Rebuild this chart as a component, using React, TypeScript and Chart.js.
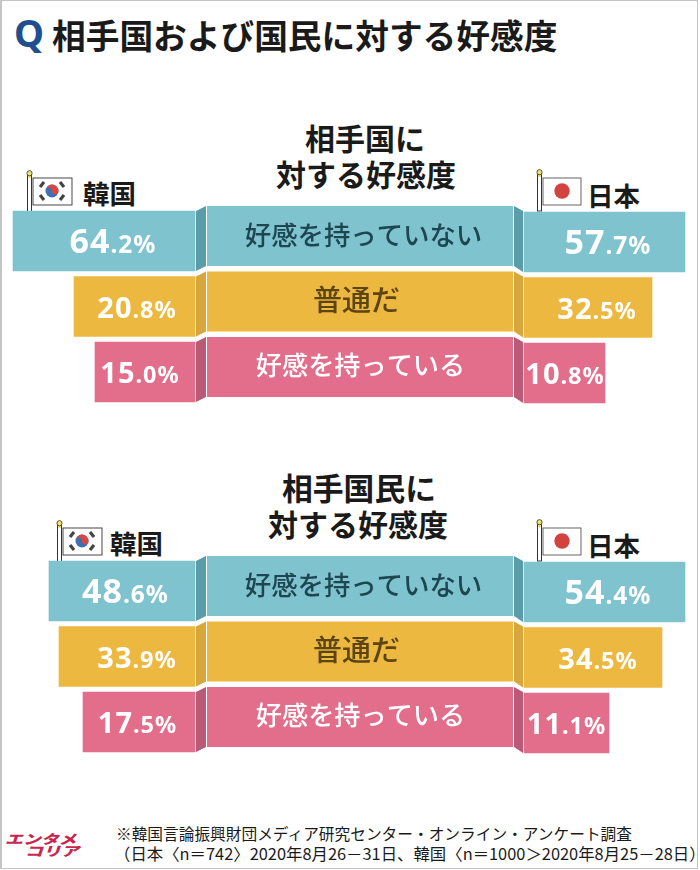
import React, { useEffect, useRef } from "react";
import { CategoryScale, Chart, LinearScale, registerables } from "chart.js";

const categories = ["好感を持っていない", "普通だ", "好感を持っている"];
const countryKorea = "韓国";
const countryJapan = "日本";
const nationKorea = [64.2, 20.8, 15.0];
const nationJapan = [57.7, 32.5, 10.8];
const peopleKorea = [48.6, 33.9, 17.5];
const peopleJapan = [54.4, 34.5, 11.1];

const JP = '"Noto Sans CJK JP", "Noto Sans", sans-serif';
const NUM = '"Noto Sans", "Noto Sans CJK JP", sans-serif';
const faces = ["#7FC3CE", "#EDB83F", "#E26E8B"];
const sides = ["#5B9CA9", "#D8A63C", "#B95A76"];
const centerInk = ["#1D4552", "#5C4413", "#FFFFFF"];
const centerX = [363.5, 356.5, 360.5];
const centerSize = [26.4, 29, 26.2];

// The source graphic does not draw its bars in proportion to the values, so each side
// has a scale that passes through what the picture shows: [value, bar length in px].
class ReadingScale extends LinearScale {
  static id = "reading";
  static defaults = LinearScale.defaults;
  getPixelForValue(value: number) {
    const o: any = this.options;
    const pts: number[][] = [[0, 0], ...o.readings];
    let len = 0;
    for (let i = 1; i < pts.length; i++) {
      const [a, la] = pts[i - 1];
      const [b, lb] = pts[i];
      if (value <= b || i === pts.length - 1) {
        len = la + ((value - a) / (b - a)) * (lb - la);
        break;
      }
    }
    return o.origin + o.direction * len;
  }
}

// The right-hand bars sit one pixel lower than the left-hand ones in the source.
class NudgedCategoryScale extends CategoryScale {
  static id = "nudgedCategory";
  static defaults = CategoryScale.defaults;
  getPixelForValue(value: any) {
    return super.getPixelForValue(value) + 1;
  }
}
Chart.register(...registerables, ReadingScale, NudgedCategoryScale);

function splitValue(v: number) {
  const s = v.toFixed(1);
  const i = s.indexOf(".");
  return [s.slice(0, i), s.slice(i) + "%"];
}

const centerPlugin = {
  id: "center",
  beforeDatasetsDraw(chart: any) {
    const { ctx, scales } = chart;
    const left = 207;
    const right = 513;
    categories.forEach((label, i) => {
      const y = scales.y.getPixelForValue(i);
      ctx.save();
      ctx.fillStyle = sides[i];
      ctx.beginPath();
      ctx.moveTo(196, y - 30);
      ctx.lineTo(206, y - 35);
      ctx.lineTo(206, y + 25);
      ctx.lineTo(196, y + 30);
      ctx.closePath();
      ctx.fill();
      ctx.beginPath();
      ctx.moveTo(514, y - 35);
      ctx.lineTo(523, y - 30);
      ctx.lineTo(523, y + 31);
      ctx.lineTo(514, y + 25);
      ctx.closePath();
      ctx.fill();
      ctx.fillStyle = faces[i];
      ctx.fillRect(left, y - 35, right - left, 60);
      ctx.fillStyle = centerInk[i];
      ctx.font = `500 ${centerSize[i]}px ${JP}`;
      ctx.textAlign = "center";
      ctx.textBaseline = "middle";
      ctx.fillText(label, centerX[i], y - 6.5);
      ctx.restore();
    });
  },
};

const valuePlugin = {
  id: "values",
  afterDatasetsDraw(chart: any) {
    const { ctx } = chart;
    chart.data.datasets.forEach((ds: any, d: number) => {
      chart.getDatasetMeta(d).data.forEach((bar: any, i: number) => {
        const [head, tail] = splitValue(ds.data[i]);
        const big = i === 0 ? 34 : 29;
        const small = i === 0 ? 24.5 : 23.5;
        ctx.save();
        (ctx as any).letterSpacing = "1px";
        ctx.fillStyle = "#FFFFFF";
        ctx.textBaseline = "alphabetic";
        ctx.textAlign = "left";
        ctx.font = `700 ${big}px ${NUM}`;
        const w1 = ctx.measureText(head).width;
        ctx.font = `700 ${small}px ${NUM}`;
        const w2 = ctx.measureText(tail).width;
        const cx = ds.labelCenters[i];
        const x = cx - (w1 + w2) / 2;
        const y = bar.y + (i === 0 ? 12 : 11);
        ctx.font = `700 ${big}px ${NUM}`;
        ctx.fillText(head, x, y);
        ctx.font = `700 ${small}px ${NUM}`;
        ctx.fillText(tail, x + w1, y);
        ctx.restore();
      });
    });
  },
};

type PanelProps = {
  top: number;
  korea: number[];
  japan: number[];
  koreaLengths: number[];
  japanLengths: number[];
  koreaCenters: number[];
  japanCenters: number[];
};

function Panel({ top, korea, japan, koreaLengths, japanLengths, koreaCenters, japanCenters }: PanelProps) {
  const ref = useRef<HTMLCanvasElement>(null);
  useEffect(() => {
    const readings = (vals: number[], lens: number[]) =>
      vals.map((v, i) => [v, lens[i]]).sort((a, b) => a[0] - b[0]);
    const chart = new Chart(ref.current!, {
      type: "bar",
      data: {
        labels: categories,
        datasets: [
          {
            label: countryKorea,
            data: korea,
            xAxisID: "xKorea",
            yAxisID: "y",
            backgroundColor: faces,
            labelCenters: koreaCenters,
          } as any,
          {
            label: countryJapan,
            data: japan,
            xAxisID: "xJapan",
            yAxisID: "yJapan",
            backgroundColor: faces,
            labelCenters: japanCenters,
          } as any,
        ],
      },
      options: {
        indexAxis: "y",
        responsive: false,
        animation: false,
        events: [],
        layout: { padding: { top: 8.25, bottom: 5.25, left: 0, right: 0 } },
        datasets: { bar: { barThickness: 60, grouped: false, borderWidth: 0 } },
        plugins: { legend: { display: false }, tooltip: { enabled: false }, title: { display: false } },
        scales: {
          y: { type: "category", display: false, grid: { display: false } },
          yJapan: { type: "nudgedCategory", display: false, grid: { display: false } },
          xKorea: {
            type: "reading",
            display: false,
            min: 0,
            max: 100,
            origin: 195,
            direction: -1,
            readings: readings(korea, koreaLengths),
          } as any,
          xJapan: {
            type: "reading",
            display: false,
            min: 0,
            max: 100,
            origin: 524,
            direction: 1,
            readings: readings(japan, japanLengths),
          } as any,
        },
      } as any,
      plugins: [centerPlugin, valuePlugin],
    });
    return () => chart.destroy();
  }, []);
  return (
    <canvas
      ref={ref}
      width={700}
      height={210}
      style={{ position: "absolute", left: 0, top, width: 700, height: 210 }}
    />
  );
}

const txt = (
  s: string,
  left: number,
  top: number,
  size: number,
  extra: React.CSSProperties = {}
) => (
  <div
    style={{
      position: "absolute",
      left,
      top,
      fontFamily: JP,
      fontSize: size,
      fontWeight: 700,
      lineHeight: 1,
      whiteSpace: "nowrap",
      color: "#1A1A1A",
      ...extra,
    }}
  >
    {s}
  </div>
);

function Pole() {
  return (
    <g>
      <rect x={2.5} y={3} width={4} height={39} fill="#fff" stroke="#333" strokeWidth={1} />
      <rect x={3} y={5} width={3} height={3} fill="#F2E27A" />
      <circle cx={4.5} cy={3.2} r={2.6} fill="#F5E26B" stroke="#333" strokeWidth={0.8} />
    </g>
  );
}

function KoreaFlag({ left, top }: { left: number; top: number }) {
  return (
    <svg width={52} height={42} style={{ position: "absolute", left, top }}>
      <Pole />
      <rect x={8} y={8} width={39} height={27} fill="#fff" stroke="#333" strokeWidth={0.9} />
      <circle cx={27} cy={21} r={6.5} fill="#3F6FB5" />
      <path d="M20.5 21 a6.5 6.5 0 0 1 13 0 a3.2 3.2 0 0 1 -6.5 0 a3.2 3.2 0 0 0 -6.5 0 z" fill="#D9483F" />
      <g stroke="#444" strokeWidth={3.2}>
        <line x1={15} y1={17} x2={19} y2={12} />
        <line x1={35} y1={12} x2={39} y2={17} />
        <line x1={15} y1={25} x2={19} y2={30} />
        <line x1={35} y1={30} x2={39} y2={25} />
      </g>
    </svg>
  );
}

function JapanFlag({ left, top }: { left: number; top: number }) {
  return (
    <svg width={50} height={44} style={{ position: "absolute", left, top }}>
      <Pole />
      <rect x={8} y={9} width={38} height={27} fill="#fff" stroke="#555" strokeWidth={0.9} />
      <circle cx={27} cy={22} r={7.7} fill="#D2423F" />
    </svg>
  );
}

const logoStyle: React.CSSProperties = {
  color: "#C8264F",
  fontWeight: 900,
  transformOrigin: "left top",
  transform: "skewX(-18deg) scaleX(1.38)",
};

export default function App() {
  useEffect(() => {
    document.body.style.margin = "0";
    document.body.style.background = "#fff";
    document.documentElement.style.overflow = "hidden";
  }, []);
  return (
    <div style={{ position: "relative", width: 700, height: 870, overflow: "hidden", background: "#fff" }}>
      {txt("Q", 14, 13, 38, { color: "#1F4F8F", fontFamily: NUM })}
      {txt("相手国および国民に対する好感度", 52, 18, 33.7)}

      {txt("相手国に", 305, 122, 30, { width: 120, textAlign: "center" })}
      {txt("対する好感度", 276, 158, 30)}
      <KoreaFlag left={25} top={170} />
      {txt(countryKorea, 83, 180, 26.5)}
      <JapanFlag left={535} top={169} />
      {txt(countryJapan, 587, 182, 26.5)}
      <Panel
        top={200}
        korea={nationKorea}
        japan={nationJapan}
        koreaLengths={[182, 121, 100]}
        japanLengths={[161, 128, 81]}
        koreaCenters={[113, 137, 140]}
        japanCenters={[608, 597, 565]}
      />

      {txt("相手国民に", 282, 472, 30.8)}
      {txt("対する好感度", 268, 508, 30)}
      <KoreaFlag left={55} top={520} />
      {txt(countryKorea, 110, 530, 26.5)}
      <JapanFlag left={535} top={519} />
      {txt(countryJapan, 587, 532, 26.5)}
      <Panel
        top={550}
        korea={peopleKorea}
        japan={peopleJapan}
        koreaLengths={[146, 136, 112]}
        japanLengths={[161, 138, 85]}
        koreaCenters={[125.5, 137, 137.5]}
        japanCenters={[608, 598, 566.5]}
      />

      {txt("エンタメ", 9, 832, 13, logoStyle)}
      {txt("コリア", 29, 844, 13, logoStyle)}
      {txt("※韓国言論振興財団メディア研究センター・オンライン・アンケート調査", 116, 826, 15.7, {
        fontWeight: 400,
      })}
      {txt("（日本〈n＝742〉2020年8月26－31日、韓国〈n＝1000＞2020年8月25－28日）", 114, 845, 16.4, {
        fontWeight: 400,
      })}

      <div
        style={{
          position: "absolute",
          left: 0,
          top: 0,
          width: 698,
          height: 869,
          boxSizing: "border-box",
          borderTop: "1px solid #c4c4c4",
          borderLeft: "2px solid #c4c4c4",
          borderRight: "1px solid #c4c4c4",
          borderBottom: "1px solid #c4c4c4",
          pointerEvents: "none",
        }}
      />
    </div>
  );
}
